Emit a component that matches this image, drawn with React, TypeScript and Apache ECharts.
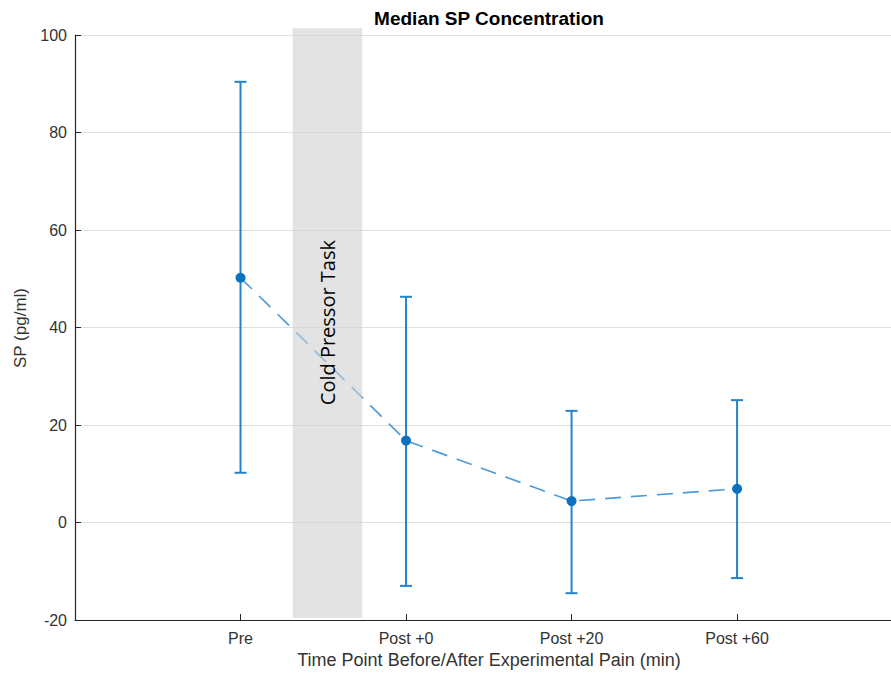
import React, { useEffect, useRef } from "react";
import * as echarts from "echarts";

const categories = ["Pre", "Post +0", "Post +20", "Post +60"];
const medians = [50.2, 16.8, 4.4, 6.9];
const lowers = [10.2, -13.0, -14.5, -11.4];
const uppers = [90.4, 46.3, 22.9, 25.1];
const yTicks = [-20, 0, 20, 40, 60, 80, 100];
const xMax = 4.93;
const bandX = [1.315, 1.735];
const bandY = [-19.6, 101.4];
const bandLabel = "Cold Pressor Task";
const bandLabelY = 41;

export default function App() {
  const ref = useRef<HTMLDivElement>(null);
  useEffect(() => {
    if (!ref.current) return;
    const chart = echarts.init(ref.current, null, { renderer: "svg" });
    const positions = categories.map((_, i) => i + 1);
    const lineData = positions.map((x, i) => [x, medians[i]]);
    const errData = positions.map((x, i) => [x, lowers[i], uppers[i]]);
    const axisColor = "#262626";
    chart.setOption({
      animation: false,
      backgroundColor: "#ffffff",
      grid: { left: 75, top: 35, right: 0, bottom: 53, containLabel: false },
      xAxis: {
        type: "value",
        min: 0,
        max: xMax,
        interval: 1,
        axisLine: { show: true, onZero: false, lineStyle: { color: axisColor, width: 1.2 } },
        axisTick: {
          show: true,
          inside: true,
          length: 6,
          customValues: positions,
          lineStyle: { color: axisColor },
        },
        splitLine: { show: false },
        axisLabel: {
          margin: 10,
          color: "#333333",
          fontSize: 16,
          fontFamily: "Liberation Sans, Arial, sans-serif",
          customValues: positions,
          formatter: (v: number) =>
            Number.isInteger(v) && v >= 1 && v <= categories.length ? categories[v - 1] : "",
        },
      },
      yAxis: {
        type: "value",
        min: yTicks[0],
        max: yTicks[yTicks.length - 1],
        interval: 20,
        axisLine: { show: true, lineStyle: { color: axisColor, width: 1.2 } },
        axisTick: { show: true, inside: true, length: 6, lineStyle: { color: axisColor } },
        splitLine: { show: true, lineStyle: { color: "#dfdfdf", width: 1.2 } },
        axisLabel: {
          margin: 8,
          color: "#333333",
          fontSize: 16,
          fontFamily: "Liberation Sans, Arial, sans-serif",
        },
      },
      graphic: [
        {
          type: "text",
          x: 489,
          y: 18,
          style: {
            text: "Median SP Concentration",
            fontSize: 19,
            fontWeight: "bold",
            fontFamily: "Liberation Sans, Arial, sans-serif",
            fill: "#000000",
            align: "center",
            verticalAlign: "middle",
          },
        },
        {
          type: "text",
          x: 489,
          y: 660,
          style: {
            text: "Time Point Before/After Experimental Pain (min)",
            fontSize: 18,
            fontFamily: "Liberation Sans, Arial, sans-serif",
            fill: "#333333",
            align: "center",
            verticalAlign: "middle",
          },
        },
        {
          type: "text",
          x: 20,
          y: 328,
          rotation: Math.PI / 2,
          style: {
            text: "SP (pg/ml)",
            fontSize: 17,
            fontFamily: "Liberation Sans, Arial, sans-serif",
            fill: "#333333",
            align: "center",
            verticalAlign: "middle",
          },
        },
      ],
      series: [
        {
          type: "custom",
          z: 2,
          clip: false,
          data: errData,
          renderItem: (params: any, api: any) => {
            const x = api.value(0);
            const lo = api.coord([x, api.value(1)]);
            const hi = api.coord([x, api.value(2)]);
            const half = 6;
            const style = { stroke: "#2483cc", lineWidth: 2 };
            return {
              type: "group",
              children: [
                { type: "line", shape: { x1: lo[0], y1: lo[1], x2: hi[0], y2: hi[1] }, style },
                { type: "line", shape: { x1: lo[0] - half, y1: lo[1], x2: lo[0] + half, y2: lo[1] }, style },
                { type: "line", shape: { x1: hi[0] - half, y1: hi[1], x2: hi[0] + half, y2: hi[1] }, style },
              ],
            };
          },
        },
        {
          type: "line",
          z: 3,
          data: lineData,
          symbol: "circle",
          symbolSize: 10,
          itemStyle: { color: "#0a72c0" },
          lineStyle: { color: "#4d9bd8", width: 1.7, type: [16, 10] },
        },
        {
          type: "custom",
          z: 10,
          clip: false,
          data: [[bandX[0], bandY[0], bandX[1], bandY[1]]],
          renderItem: (params: any, api: any) => {
            const p0 = api.coord([api.value(0), api.value(3)]);
            const p1 = api.coord([api.value(2), api.value(1)]);
            const cx = (p0[0] + p1[0]) / 2;
            const ty = api.coord([api.value(0), bandLabelY])[1];
            return {
              type: "group",
              children: [
                {
                  type: "rect",
                  shape: { x: p0[0], y: p0[1], width: p1[0] - p0[0], height: p1[1] - p0[1] },
                  style: { fill: "rgba(208,208,208,0.6)" },
                },
                {
                  type: "text",
                  x: cx,
                  y: ty,
                  rotation: Math.PI / 2,
                  style: {
                    text: bandLabel,
                    fontSize: 20,
                    fontFamily: "Open Sans, sans-serif",
                    fill: "#000000",
                    align: "center",
                    verticalAlign: "middle",
                  },
                },
              ],
            };
          },
        },
      ],
    });
    return () => chart.dispose();
  }, []);
  return (
    <div
      ref={ref}
      style={{ position: "fixed", left: 0, top: 0, width: 891, height: 673, background: "#fff" }}
    />
  );
}
